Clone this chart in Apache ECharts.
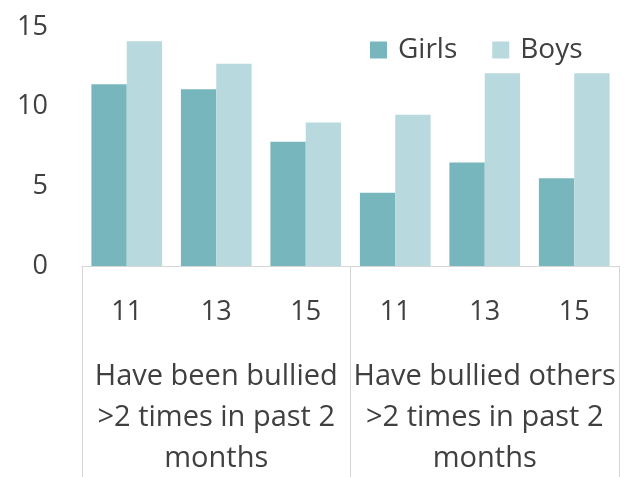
<!DOCTYPE html>
<html>
<head>
<meta charset="utf-8">
<script src="https://cdn.jsdelivr.net/npm/echarts@6/dist/echarts.min.js"></script>
<style>
  html, body { margin: 0; padding: 0; background: #ffffff; }
  #chart { width: 624px; height: 477px; }
</style>
</head>
<body>
<div id="chart"></div>
<script>
// Ages within each question group
const ages = ['11', '13', '15', '11', '13', '15'];
// Question groups shown beneath the age labels
const groups = [
  'Have been bullied\n>2 times in past 2\nmonths',
  'Have bullied others\n>2 times in past 2\nmonths'
];
// Percentages by sex
const girls = [11.4, 11.1, 7.8, 4.6, 6.5, 5.5];
const boys = [14.1, 12.7, 9.0, 9.5, 12.1, 12.1];
const yTicks = { min: 0, max: 15, interval: 5 };

const FONT = 'Open Sans';
const TEXT = '#404040';
const LINE = '#d6d6d6';

const chart = echarts.init(document.getElementById('chart'), null, { renderer: 'canvas' });
chart.setOption({
  animation: false,
  textStyle: { fontFamily: FONT },
  grid: {
    left: 82, right: 5, top: 27, bottom: 211,
    containLabel: false,
    outerBoundsMode: 'none'
  },
  legend: {
    left: 365,
    top: 31,
    itemWidth: 17,
    itemHeight: 17,
    itemGap: 35,
    icon: 'rect',
    textStyle: { fontFamily: FONT, fontSize: 28, color: TEXT, lineHeight: 28, padding: [0, 0, 0, 6] },
    data: ['Girls', 'Boys']
  },
  xAxis: [
    {
      type: 'category',
      data: ages,
      position: 'bottom',
      axisLine: { show: false },
      axisTick: { show: false },
      axisLabel: { fontFamily: FONT, fontSize: 27, color: TEXT, margin: 32, lineHeight: 28 }
    },
    {
      type: 'category',
      data: groups,
      position: 'bottom',
      axisLine: { show: true, lineStyle: { color: LINE, width: 1 } },
      axisTick: { show: true, length: 215, lineStyle: { color: LINE, width: 1 } },
      axisLabel: {
        fontFamily: FONT, fontSize: 29, color: TEXT, margin: 90,
        lineHeight: 41, align: 'center', interval: 0
      }
    }
  ],
  yAxis: {
    type: 'value',
    min: yTicks.min,
    max: yTicks.max,
    interval: yTicks.interval,
    axisLine: { show: false },
    axisTick: { show: false },
    splitLine: { show: false },
    axisLabel: { fontFamily: FONT, fontSize: 27, color: TEXT, margin: 34 }
  },
  series: [
    {
      name: 'Girls',
      type: 'bar',
      xAxisIndex: 0,
      data: girls,
      barGap: '0%',
      barCategoryGap: '21%',
      itemStyle: { color: '#78b6bd' }
    },
    {
      name: 'Boys',
      type: 'bar',
      xAxisIndex: 0,
      data: boys,
      barGap: '0%',
      barCategoryGap: '21%',
      itemStyle: { color: '#b8d9dd' }
    }
  ]
});
</script>
</body>
</html>
